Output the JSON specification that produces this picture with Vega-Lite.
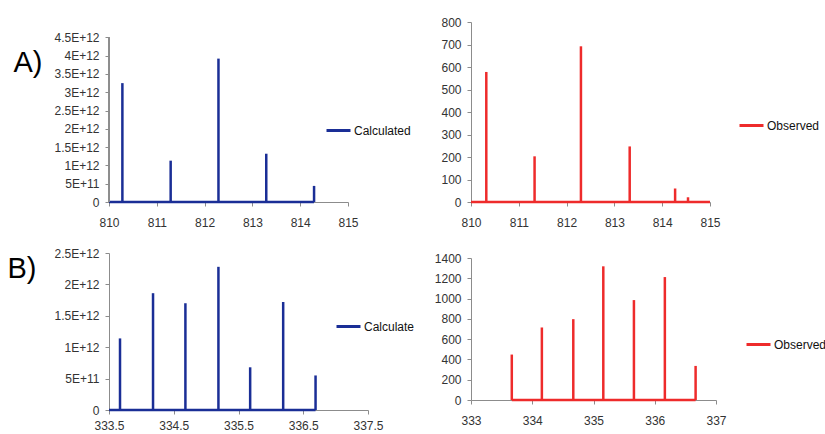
{
  "$schema": "https://vega.github.io/schema/vega-lite/v6.json",
  "padding": {"left": 7, "top": 16, "right": 5, "bottom": 5},
  "background": "white",
  "config": {
    "font": "Liberation Sans",
    "view": {"stroke": null},
    "axis": {
      "grid": false,
      "domainColor": "#8c8c8c",
      "tickColor": "#8c8c8c",
      "tickSize": 4,
      "labelFont": "Liberation Sans",
      "labelFontSize": 12,
      "labelColor": "#333333",
      "labelFlush": false,
      "labelOverlap": false
    },
    "axisX": {"labelPadding": 11},
    "axisY": {"labelPadding": 6},
    "legend": {
      "orient": "none",
      "title": null,
      "symbolType": "stroke",
      "symbolStrokeWidth": 3,
      "symbolSize": 576,
      "labelFont": "Liberation Sans",
      "labelFontSize": 12,
      "labelColor": "#111111",
      "labelOffset": 2,
      "padding": 0
    }
  },
  "datasets": {
    "acalc": [
      {"mz": 810.0, "intensity": 0, "series": "Calculated"},
      {"mz": 810.28, "intensity": 3.25e12, "series": "Calculated"},
      {"mz": 811.29, "intensity": 1.13e12, "series": "Calculated"},
      {"mz": 812.29, "intensity": 3.92e12, "series": "Calculated"},
      {"mz": 813.29, "intensity": 1.32e12, "series": "Calculated"},
      {"mz": 814.29, "intensity": 0.44e12, "series": "Calculated"}
    ],
    "aobs": [
      {"mz": 810.0, "intensity": 0, "series": "Observed"},
      {"mz": 810.32, "intensity": 578, "series": "Observed"},
      {"mz": 811.33, "intensity": 203, "series": "Observed"},
      {"mz": 812.30, "intensity": 692, "series": "Observed"},
      {"mz": 813.32, "intensity": 247, "series": "Observed"},
      {"mz": 813.95, "intensity": 3, "series": "Observed"},
      {"mz": 814.27, "intensity": 60, "series": "Observed"},
      {"mz": 814.54, "intensity": 21, "series": "Observed"},
      {"mz": 815.0, "intensity": 0, "series": "Observed"}
    ],
    "bcalc": [
      {"mz": 333.5, "intensity": 0, "series": "Calculate"},
      {"mz": 333.67, "intensity": 1.14e12, "series": "Calculate"},
      {"mz": 334.18, "intensity": 1.86e12, "series": "Calculate"},
      {"mz": 334.68, "intensity": 1.70e12, "series": "Calculate"},
      {"mz": 335.19, "intensity": 2.28e12, "series": "Calculate"},
      {"mz": 335.68, "intensity": 0.68e12, "series": "Calculate"},
      {"mz": 336.19, "intensity": 1.72e12, "series": "Calculate"},
      {"mz": 336.69, "intensity": 0.55e12, "series": "Calculate"}
    ],
    "bobs": [
      {"mz": 333.666, "intensity": 448, "series": "Observed"},
      {"mz": 334.157, "intensity": 715, "series": "Observed"},
      {"mz": 334.67, "intensity": 797, "series": "Observed"},
      {"mz": 335.16, "intensity": 1318, "series": "Observed"},
      {"mz": 335.66, "intensity": 985, "series": "Observed"},
      {"mz": 336.165, "intensity": 1212, "series": "Observed"},
      {"mz": 336.667, "intensity": 336, "series": "Observed"}
    ]
  },
  "spacing": 19,
  "resolve": {"scale": {"color": "independent"}, "legend": {"color": "independent"}},
  "hconcat": [
    {
      "spacing": 19,
      "resolve": {"scale": {"color": "independent"}, "legend": {"color": "independent"}},
      "vconcat": [
        {
          "width": 239,
          "height": 180,
          "data": {"name": "acalc"},
          "layer": [
            {
              "mark": {"type": "rule", "strokeWidth": 2.5, "color": "#1a2e96"},
              "encoding": {
                "x": {"aggregate": "min", "field": "mz", "type": "quantitative",
                      "scale": {"domain": [810, 815], "nice": false, "zero": false},
                      "axis": {"title": null, "values": [810, 811, 812, 813, 814, 815], "tickCount": 20, "format": "d", "labelOverlap": false}},
                "x2": {"aggregate": "max", "field": "mz"},
                "y": {"datum": 0, "type": "quantitative",
                      "scale": {"domain": [0, 4.921e12], "nice": false},
                      "axis": {"domain": false, "labelOverlap": false, "tickCount": 20,
                               "values": [0, 5e11, 1e12, 1.5e12, 2e12, 2.5e12, 3e12, 3.5e12, 4e12, 4.5e12],
                               "labelExpr": "datum.value == 0 ? '0' : upper(format(datum.value, '.2~e'))",
                               "title": "A)", "titleAngle": 0, "titleAlign": "left", "titleBaseline": "alphabetic",
                               "titleX": -96, "titleY": 49, "titleFontSize": 29, "titleFontWeight": "normal",
                               "titleColor": "#000000", "titleFont": "Liberation Sans"}}
              }
            },
            {
              "mark": {"type": "rule", "strokeWidth": 2.5},
              "encoding": {
                "x": {"field": "mz", "type": "quantitative"},
                "y": {"field": "intensity", "type": "quantitative"},
                "y2": {"datum": 0},
                "color": {"field": "series", "type": "nominal",
                          "scale": {"range": ["#1a2e96"]},
                          "legend": {"legendX": 216, "legendY": 95}}
              }
            },
            {
              "mark": {"type": "rule", "strokeWidth": 1, "color": "#8c8c8c"},
              "encoding": {
                "x": {"datum": 810},
                "y": {"datum": 0},
                "y2": {"datum": 4.5e12}
              }
            }
          ]
        },
        {
          "width": 259,
          "height": 157,
          "data": {"name": "bcalc"},
          "layer": [
            {
              "mark": {"type": "rule", "strokeWidth": 2.5, "color": "#1a2e96"},
              "encoding": {
                "x": {"aggregate": "min", "field": "mz", "type": "quantitative",
                      "scale": {"domain": [333.5, 337.5], "nice": false, "zero": false},
                      "axis": {"title": null, "values": [333.5, 334.5, 335.5, 336.5, 337.5], "tickCount": 20, "format": ".1f", "labelOverlap": false, "labelPadding": 6}},
                "x2": {"aggregate": "max", "field": "mz"},
                "y": {"datum": 0, "type": "quantitative",
                      "scale": {"domain": [0, 2.5e12], "nice": false},
                      "axis": {"values": [0, 5e11, 1e12, 1.5e12, 2e12, 2.5e12], "labelOverlap": false, "tickCount": 20,
                               "labelExpr": "datum.value == 0 ? '0' : upper(format(datum.value, '.2~e'))",
                               "title": "B)", "titleAngle": 0, "titleAlign": "left", "titleBaseline": "alphabetic",
                               "titleX": -102, "titleY": 24, "titleFontSize": 29, "titleFontWeight": "normal",
                               "titleColor": "#000000", "titleFont": "Liberation Sans"}}
              }
            },
            {
              "mark": {"type": "rule", "strokeWidth": 2.5},
              "encoding": {
                "x": {"field": "mz", "type": "quantitative"},
                "y": {"field": "intensity", "type": "quantitative"},
                "y2": {"datum": 0},
                "color": {"field": "series", "type": "nominal",
                          "scale": {"range": ["#1a2e96"]},
                          "legend": {"legendX": 226, "legendY": 60}}
              }
            }
          ]
        }
      ]
    },
    {
      "spacing": 24,
      "resolve": {"scale": {"color": "independent"}, "legend": {"color": "independent"}},
      "vconcat": [
        {
          "width": 239,
          "height": 180,
          "data": {"name": "aobs"},
          "layer": [
            {
              "mark": {"type": "rule", "strokeWidth": 2.5, "color": "#ee2b2b"},
              "encoding": {
                "x": {"aggregate": "min", "field": "mz", "type": "quantitative",
                      "scale": {"domain": [810, 815], "nice": false, "zero": false},
                      "axis": {"title": null, "values": [810, 811, 812, 813, 814, 815], "tickCount": 20, "format": "d", "labelOverlap": false}},
                "x2": {"aggregate": "max", "field": "mz"},
                "y": {"datum": 0, "type": "quantitative",
                      "scale": {"domain": [0, 800], "nice": false},
                      "axis": {"title": null, "values": [0, 100, 200, 300, 400, 500, 600, 700, 800], "tickCount": 20, "format": "d", "labelOverlap": false}}
              }
            },
            {
              "mark": {"type": "rule", "strokeWidth": 2.5},
              "encoding": {
                "x": {"field": "mz", "type": "quantitative"},
                "y": {"field": "intensity", "type": "quantitative"},
                "y2": {"datum": 0},
                "color": {"field": "series", "type": "nominal",
                          "scale": {"range": ["#ee2b2b"]},
                          "legend": {"legendX": 267, "legendY": 90}}
              }
            }
          ]
        },
        {
          "width": 245,
          "height": 142,
          "data": {"name": "bobs"},
          "layer": [
            {
              "mark": {"type": "rule", "strokeWidth": 2.5, "color": "#ee2b2b"},
              "encoding": {
                "x": {"aggregate": "min", "field": "mz", "type": "quantitative",
                      "scale": {"domain": [333, 337], "nice": false, "zero": false},
                      "axis": {"title": null, "values": [333, 334, 335, 336, 337], "tickCount": 20, "format": "d", "labelOverlap": false}},
                "x2": {"aggregate": "max", "field": "mz"},
                "y": {"datum": 0, "type": "quantitative",
                      "scale": {"domain": [0, 1400], "nice": false},
                      "axis": {"title": null, "values": [0, 200, 400, 600, 800, 1000, 1200, 1400], "tickCount": 20, "format": "d", "labelOverlap": false}}
              }
            },
            {
              "mark": {"type": "rule", "strokeWidth": 2.5},
              "encoding": {
                "x": {"field": "mz", "type": "quantitative"},
                "y": {"field": "intensity", "type": "quantitative"},
                "y2": {"datum": 0},
                "color": {"field": "series", "type": "nominal",
                          "scale": {"range": ["#ee2b2b"]},
                          "legend": {"legendX": 274, "legendY": 73}}
              }
            }
          ]
        }
      ]
    }
  ]
}
